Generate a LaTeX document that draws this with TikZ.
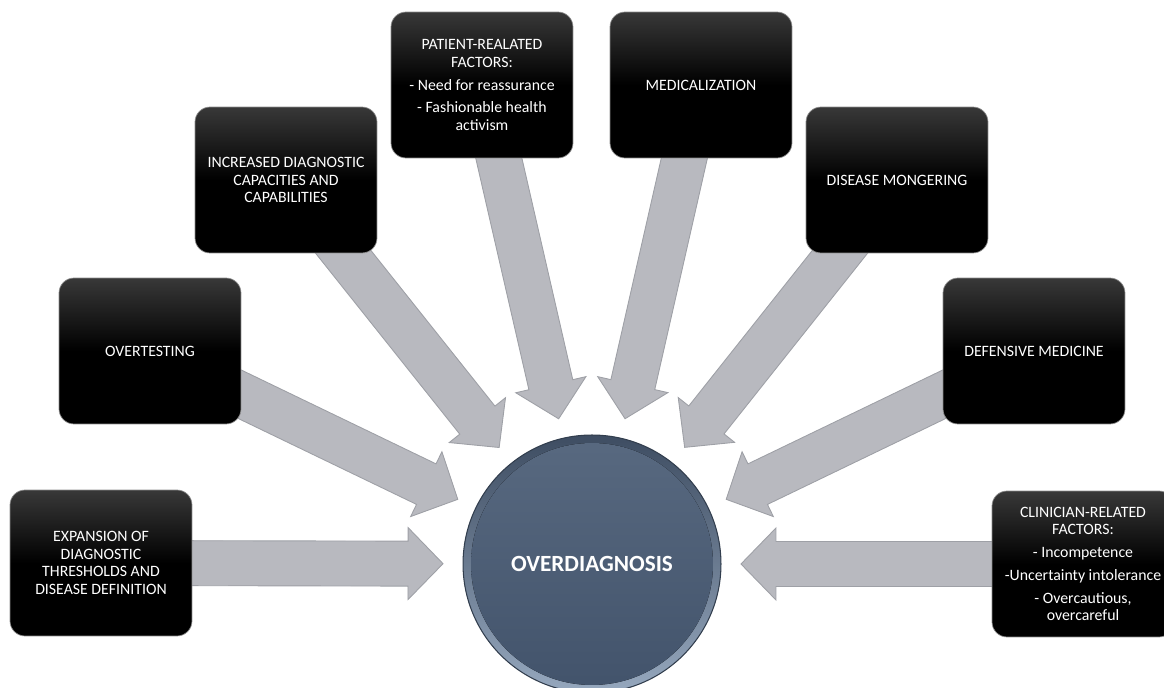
\documentclass[tikz,border=0pt]{standalone}
\usepackage{fontspec}
\setmainfont{Carlito}
\usetikzlibrary{calc}

\definecolor{arrowgray}{RGB}{184,185,191}
\definecolor{arrowedge}{RGB}{158,160,166}
\definecolor{hubdark}{RGB}{62,77,98}
\definecolor{hublight}{RGB}{150,168,190}
\definecolor{hubtop}{RGB}{88,105,128}
\definecolor{hubbot}{RGB}{66,83,107}

\pgfdeclarelayer{back}
\pgfsetlayers{back,main}

% block arrow from a factor box to the hub
\newcommand{\fatarrow}[1]{%
  \coordinate (#1-t) at ($(ov)!2.98cm!(#1)$);
  \coordinate (#1-n) at ($(#1-t)!0.7cm!(#1)$);
  \draw[arrowbody] ($(#1)!0.45cm!90:(#1-t)$) -- ($(#1-n)!0.45cm!90:(#1-t)$)
    -- ($(#1-n)!0.72cm!90:(#1-t)$) -- (#1-t) -- ($(#1-n)!0.72cm!-90:(#1-t)$)
    -- ($(#1-n)!0.45cm!-90:(#1-t)$) -- ($(#1)!0.45cm!-90:(#1-t)$) -- cycle;
}

\begin{document}
\begin{tikzpicture}[x=0.02cm,y=-0.02cm,
  factor/.style={rectangle, rounded corners=0.3cm, minimum width=3.64cm,
    minimum height=2.92cm, top color=black!78, bottom color=black,
    middle color=black, draw=black!45, line width=0.4pt, align=center,
    text=white, inner sep=2pt, font=\fontsize{9}{10}\selectfont},
  hub/.style={circle, minimum size=5.16cm, inner sep=0pt, top color=hubdark,
    bottom color=hublight, draw=hubdark!80!black, line width=0.6pt,
    text=white, font=\bfseries\fontsize{13.2}{15}\selectfont,
    path picture={\fill[top color=hubtop, bottom color=hubbot]
      (path picture bounding box.center) circle (2.42cm);}},
  arrowbody/.style={fill=arrowgray, draw=arrowedge, line width=0.5pt, line join=miter}]
  \useasboundingbox (0,0) rectangle (1164,688);
  \clip (0,0) rectangle (1164,688);

  % hub
  \node[hub] (ov) at (592,564) {OVERDIAGNOSIS};

  % factors
  \node[factor] (exp) at (101,563) {EXPANSION OF\\DIAGNOSTIC\\THRESHOLDS AND\\DISEASE DEFINITION};
  \node[factor] (ovt) at (150,351) {OVERTESTING};
  \node[factor] (inc) at (286,180) {INCREASED DIAGNOSTIC\\CAPACITIES AND\\CAPABILITIES};
  \node[factor] (pat) at (482,85) {PATIENT-REALATED\\FACTORS:\\[3pt]- Need for reassurance\\[3pt]- Fashionable health\\activism};
  \node[factor] (med) at (701,85) {MEDICALIZATION};
  \node[factor] (dis) at (897,180) {DISEASE MONGERING};
  \node[factor] (def) at (1034,351) {DEFENSIVE MEDICINE};
  \node[factor] (cli) at (1083,564) {CLINICIAN-RELATED\\FACTORS:\\[3pt]- Incompetence\\[3pt]-Uncertainty intolerance\\[3pt]- Overcautious,\\overcareful};

  % arrows behind the boxes
  \begin{pgfonlayer}{back}
    \foreach \f in {exp,ovt,inc,pat,med,dis,def,cli}
      \fatarrow{\f};
  \end{pgfonlayer}
\end{tikzpicture}
\end{document}
